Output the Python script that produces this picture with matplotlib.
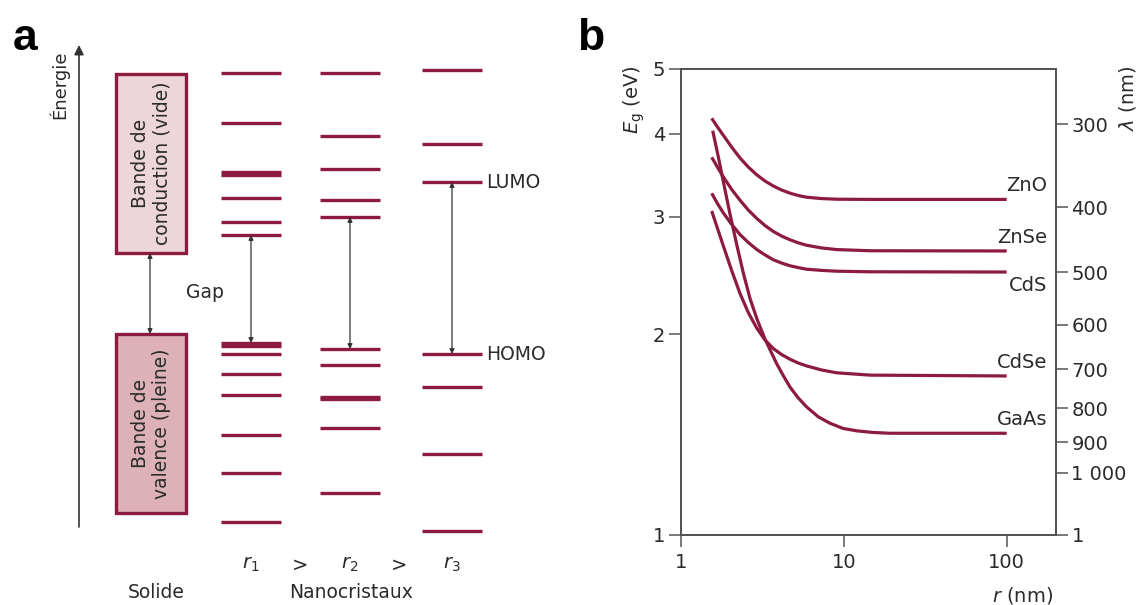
import numpy as np
import matplotlib.pyplot as plt
from matplotlib.patches import Rectangle
from matplotlib.ticker import NullLocator

plt.rcParams['font.family'] = 'DejaVu Sans'
plt.rcParams['mathtext.fontset'] = 'dejavusans'

# ==================== DATA ====================
# panel a : schematic energy levels (arbitrary units, higher = more energy)
conduction_band = (352, 531)
valence_band = (92, 271)
levels_r1 = [532, 482, 433, 430, 407, 383, 370, 262, 259, 251, 231, 210, 170, 132, 83]
levels_r2 = [532, 469, 436, 405, 388, 256, 240, 208, 206, 177, 112]
levels_r3 = [535, 461, 423, 251, 218, 151, 74]
size_labels = ['$r_1$', '$r_2$', '$r_3$']

# panel b : band gap (eV) vs nanocrystal radius (nm)
r_grid = [1.538, 1.669, 1.812, 2.038, 2.295, 2.581, 2.907, 3.269, 3.677,
          4.135, 4.657, 5.238, 5.898, 7.294, 9.018, 14.45, 100]
e_zno = [4.217, 4.092, 3.977, 3.819, 3.677, 3.564, 3.470, 3.396, 3.338,
         3.292, 3.256, 3.230, 3.211, 3.196, 3.189, 3.187, 3.187]
e_znse = [3.686, 3.561, 3.445, 3.300, 3.178, 3.072, 2.985, 2.912, 2.853,
          2.808, 2.772, 2.743, 2.720, 2.695, 2.680, 2.669, 2.667]
e_cds = [3.255, 3.141, 3.042, 2.924, 2.823, 2.746, 2.681, 2.631, 2.587,
         2.558, 2.534, 2.518, 2.504, 2.494, 2.487, 2.482, 2.480]
e_cdse = [3.062, 2.883, 2.715, 2.495, 2.303, 2.156, 2.044, 1.961, 1.904,
          1.865, 1.835, 1.811, 1.793, 1.768, 1.751, 1.737, 1.732]
r_gaas = [1.560, 1.689, 1.812, 1.992, 2.191, 2.405, 2.644, 2.919, 3.269, 3.857,
          4.24, 4.657, 5.238, 5.898, 6.951, 8.203, 9.860, 11.97, 15.08, 19.17, 100]
e_gaas = [4.04, 3.69, 3.39, 3.03, 2.727, 2.472, 2.264, 2.108, 1.967, 1.807,
          1.733, 1.667, 1.605, 1.556, 1.504, 1.471, 1.445, 1.433, 1.425, 1.421, 1.421]
materials = ['ZnO', 'ZnSe', 'CdS', 'CdSe', 'GaAs']

eg_ticks = [1, 2, 3, 4, 5]
r_ticks = [1, 10, 100]
lam_ticks = [300, 400, 500, 600, 700, 800, 900, 1000]
lam_labels = ['300', '400', '500', '600', '700', '800', '900', '1 000']

# ==================== FIGURE ====================
W, H = 1142, 605
fig = plt.figure(figsize=(W / 100, H / 100), dpi=100)
red = '#8C1B3F'
txt = '#2a2a2a'
grey = '#555555'

# ---------- panel a ----------
axa = fig.add_axes([0, 0, 571 / W, 1])
axa.set_xlim(0, 571)
axa.set_ylim(0, 605)
axa.axis('off')

# energy axis
axa.annotate('', xy=(79, 560), xytext=(79, 78),
             arrowprops=dict(arrowstyle='-|>', color='#333333', lw=1.2, mutation_scale=14,
                             shrinkA=0, shrinkB=0))
axa.text(59, 520, 'Énergie', rotation=90, ha='center', va='center', fontsize=13, color=txt)

# bands of the solid
bx, bw = 116, 70
axa.add_patch(Rectangle((bx, conduction_band[0]), bw, conduction_band[1] - conduction_band[0],
                        facecolor='#EDD6D9', edgecolor=red, lw=2.4))
axa.add_patch(Rectangle((bx, valence_band[0]), bw, valence_band[1] - valence_band[0],
                        facecolor='#DCB2B8', edgecolor=red, lw=2.4))
axa.text(bx + bw / 2, sum(conduction_band) / 2, 'Bande de\nconduction (vide)', rotation=90,
         ha='center', va='center', fontsize=13.5, color=txt, linespacing=1.15)
axa.text(bx + bw / 2, sum(valence_band) / 2, 'Bande de\nvalence (pleine)', rotation=90,
         ha='center', va='center', fontsize=13.5, color=txt, linespacing=1.15)
axa.annotate('', xy=(150, valence_band[1]), xytext=(150, conduction_band[0]),
             arrowprops=dict(arrowstyle='<|-|>', color='#333333', lw=0.9, mutation_scale=7,
                             shrinkA=0, shrinkB=0))
axa.text(186, 312, 'Gap', ha='left', va='center', fontsize=13.5, color=txt)

# nanocrystal levels
col_x = [251, 350, 452]
half = 30
for cx, levels, lab in zip(col_x, [levels_r1, levels_r2, levels_r3], size_labels):
    axa.hlines(levels, cx - half, cx + half, color=red, lw=2.4)
    lumo = min(l for l in levels if l > 300)
    homo = max(l for l in levels if l < 300)
    axa.annotate('', xy=(cx, homo), xytext=(cx, lumo),
                 arrowprops=dict(arrowstyle='<|-|>', color='#333333', lw=0.9, mutation_scale=7,
                                 shrinkA=0, shrinkB=0))
    axa.text(cx, 40, lab, ha='center', va='center', fontsize=14, color=txt)
axa.text(300, 40, '>', ha='center', va='center', fontsize=14, color=txt)
axa.text(399, 40, '>', ha='center', va='center', fontsize=14, color=txt)
axa.text(486, min(l for l in levels_r3 if l > 300), 'LUMO', ha='left', va='center',
         fontsize=13.5, color=txt)
axa.text(486, max(l for l in levels_r3 if l < 300), 'HOMO', ha='left', va='center',
         fontsize=13.5, color=txt)
axa.text(156, 12, 'Solide', ha='center', va='center', fontsize=13.5, color=txt)
axa.text(351, 12, 'Nanocristaux', ha='center', va='center', fontsize=13.5, color=txt)

# ---------- panel b ----------
ax = fig.add_axes([681.3 / W, (H - 535) / H, (1056 - 681.3) / W, (535 - 69) / H])
ax.set_xscale('log')
ax.set_yscale('log')

curves = [(r_grid, e_zno), (r_grid, e_znse), (r_grid, e_cds), (r_grid, e_cdse), (r_gaas, e_gaas)]
for (r, e) in curves:
    ax.plot(r, e, color=red, lw=2.3, solid_capstyle='butt', solid_joinstyle='round')

offsets = [10, 10, -10, 10, 10]
for name, (r, e), off in zip(materials, curves, offsets):
    ax.annotate(name, (178, e[-1]), xytext=(0, off), textcoords='offset points',
                ha='right', va='center', fontsize=14, color=txt)

ax.set_xlim(1, 201)
ax.set_ylim(1, 5)
ax.set_xticks(r_ticks)
ax.set_xticklabels([str(v) for v in r_ticks])
ax.set_yticks(eg_ticks)
ax.set_yticklabels([str(v) for v in eg_ticks])
ax.xaxis.set_minor_locator(NullLocator())
ax.yaxis.set_minor_locator(NullLocator())

ax2 = ax.twinx()
ax2.set_yscale('log')
ax2.set_ylim(1, 5)
ax2.set_yticks([1240 / l for l in lam_ticks] + [1])
ax2.set_yticklabels(lam_labels + ['1'])
ax2.yaxis.set_minor_locator(NullLocator())

for a in (ax, ax2):
    for s in a.spines.values():
        s.set_color(grey)
        s.set_linewidth(1.4)
    a.tick_params(direction='out', length=8.6, width=1.1, color=grey,
                  labelsize=14, labelcolor=txt)
ax.tick_params(axis='y', pad=3)
ax.tick_params(axis='x', pad=4)
ax2.tick_params(axis='y', pad=2.5)

ax.text(-0.125, 0.935, r'$E_\mathrm{g}$ (eV)', rotation=90, ha='center', va='center',
        fontsize=14, color=txt, transform=ax.transAxes)
ax.text(1.192, 0.938, r'$\lambda$ (nm)', rotation=90, ha='center', va='center',
        fontsize=14, color=txt, transform=ax.transAxes)
ax.text(0.912, -0.13, r'$r$ (nm)', ha='center', va='center',
        fontsize=14, color=txt, transform=ax.transAxes)

# panel letters
fig.text(13 / W, 1 - 50 / H, 'a', fontsize=32, fontweight='bold',
         family='Liberation Sans', ha='left', va='baseline')
fig.text(577 / W, 1 - 50 / H, 'b', fontsize=32, fontweight='bold',
         family='Liberation Sans', ha='left', va='baseline')

fig.savefig('out.png', dpi=100)
